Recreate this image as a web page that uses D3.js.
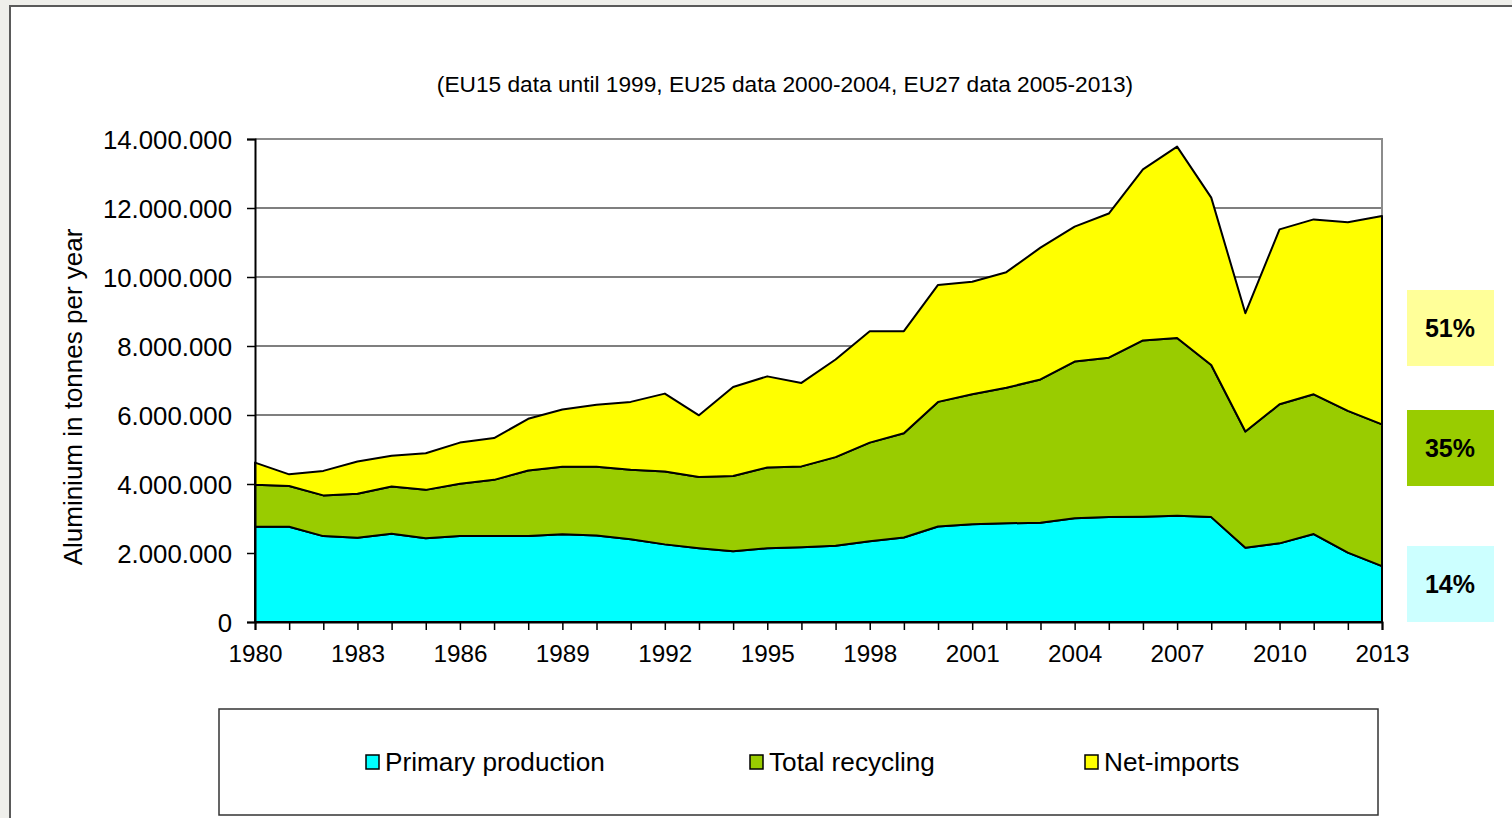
<!DOCTYPE html>
<html>
<head>
<meta charset="utf-8">
<script src="https://cdn.jsdelivr.net/npm/d3@7"></script>
<style>
  html, body { margin: 0; padding: 0; background: #efefeb; }
  svg { display: block; }
  text { font-family: "Liberation Sans", Arial, sans-serif; fill: #000; }
</style>
</head>
<body>
<svg id="chart" width="1512" height="818"></svg>
<script>
// ---- data (tonnes per year) ----
const years = [1980,1981,1982,1983,1984,1985,1986,1987,1988,1989,1990,1991,1992,1993,1994,1995,1996,1997,1998,1999,2000,2001,2002,2003,2004,2005,2006,2007,2008,2009,2010,2011,2012,2013];
const primaryProduction = [2760000,2760000,2490000,2440000,2560000,2430000,2490000,2490000,2490000,2540000,2510000,2400000,2250000,2140000,2050000,2140000,2170000,2210000,2340000,2450000,2770000,2830000,2860000,2880000,3010000,3040000,3050000,3080000,3040000,2150000,2280000,2550000,2010000,1620000];
const totalRecycling = [1220000,1180000,1180000,1280000,1370000,1400000,1520000,1630000,1900000,1960000,1990000,2010000,2110000,2060000,2180000,2340000,2340000,2570000,2860000,3020000,3610000,3770000,3930000,4150000,4540000,4620000,5110000,5150000,4410000,3370000,4030000,4050000,4110000,4110000];
const netImports = [640000,340000,710000,930000,890000,1060000,1190000,1210000,1500000,1660000,1800000,1970000,2260000,1790000,2580000,2640000,2420000,2830000,3230000,2960000,3390000,3260000,3350000,3820000,3910000,4180000,4960000,5550000,4850000,3430000,5070000,5070000,5470000,6040000];
const seriesNames = ["Primary production","Total recycling","Net-imports"];
const seriesColors = ["#00ffff","#99cc00","#ffff00"];
const yTicks = [0,2000000,4000000,6000000,8000000,10000000,12000000,14000000];
const xLabelYears = [1980,1983,1986,1989,1992,1995,1998,2001,2004,2007,2010,2013];
const shareLabels = ["51%","35%","14%"];
const shareColors = ["#ffff99","#99cc00","#ccffff"];
const subtitle = "(EU15 data until 1999, EU25 data 2000-2004, EU27 data 2005-2013)";
const yTitle = "Aluminium in tonnes per year";

// ---- layout ----
const svg = d3.select("#chart");
const plot = {left: 255, right: 1382, top: 139, bottom: 622};

// outer white panel
svg.append("rect").attr("x", 10).attr("y", 6).attr("width", 1520).attr("height", 830)
  .attr("fill", "#fff").attr("stroke", "#5a5a5a").attr("stroke-width", 2);

const x = d3.scaleLinear().domain([years[0], years[years.length-1]]).range([plot.left, plot.right]);
const y = d3.scaleLinear().domain([0, 14000000]).range([plot.bottom, plot.top]);

const locale = d3.formatLocale({decimal: ",", thousands: ".", grouping: [3], currency: ["", ""]});
const fmt = locale.format(",");

// subtitle
svg.append("text").attr("x", 785).attr("y", 92).attr("text-anchor", "middle")
  .style("font-size", "22.7px").text(subtitle);

// gridlines
svg.append("g").selectAll("line").data(yTicks.filter(d => d > 0 && d < 14000000)).join("line")
  .attr("x1", plot.left).attr("x2", plot.right)
  .attr("y1", d => y(d)).attr("y2", d => y(d))
  .attr("stroke", "#000").attr("stroke-width", 1.2);

// plot top / right frame
svg.append("path")
  .attr("d", `M${plot.left},${y(14000000)}H${plot.right}V${plot.bottom}`)
  .attr("fill", "none").attr("stroke", "#8c8c8c").attr("stroke-width", 2);

// stacked areas
const table = years.map((yr, i) => ({year: yr, p: primaryProduction[i], r: totalRecycling[i], n: netImports[i]}));
const stack = d3.stack().keys(["p","r","n"]);
const layers = stack(table);
const area = d3.area().x(d => x(d.data.year)).y0(d => y(d[0])).y1(d => y(d[1]));
svg.append("g").selectAll("path").data(layers).join("path")
  .attr("d", d => area(d) + "Z")
  .attr("fill", (d, i) => seriesColors[i])
  .attr("stroke", "#000").attr("stroke-width", 2).attr("stroke-linejoin", "round");

// axes
const yAxis = d3.axisLeft(y).tickValues(yTicks).tickFormat(fmt).tickSize(8).tickPadding(15);
const gy = svg.append("g").attr("transform", `translate(${plot.left},0)`).call(yAxis);
gy.select(".domain").attr("stroke", "#000").attr("stroke-width", 2);
gy.selectAll(".tick line").attr("stroke", "#000").attr("stroke-width", 1.5);
gy.selectAll(".tick text").style("font-size", "25.8px").style("font-family", '"Liberation Sans", Arial, sans-serif').attr("fill", "#000").attr("dy", "0.36em");

const xAxis = d3.axisBottom(x).tickValues(years).tickSize(8).tickPadding(15)
  .tickFormat(d => xLabelYears.includes(d) ? String(d) : "");
const gx = svg.append("g").attr("transform", `translate(0,${plot.bottom})`).call(xAxis);
gx.select(".domain").attr("stroke", "#000").attr("stroke-width", 2);
gx.selectAll(".tick line").attr("stroke", "#000").attr("stroke-width", 1.5);
gx.selectAll(".tick text").style("font-size", "24.3px").style("font-family", '"Liberation Sans", Arial, sans-serif').attr("fill", "#000");

// y title
svg.append("text").attr("transform", "translate(82,397) rotate(-90)").attr("text-anchor", "middle")
  .style("font-size", "26px").text(yTitle);

// share boxes
const shareY = [290, 410, 546];
const sb = svg.append("g").selectAll("g").data(shareLabels).join("g");
sb.append("rect").attr("x", 1407).attr("y", (d, i) => shareY[i]).attr("width", 87).attr("height", 76)
  .attr("fill", (d, i) => shareColors[i]);
sb.append("text").attr("x", 1450).attr("y", (d, i) => shareY[i] + 38).attr("dy", "0.36em")
  .attr("text-anchor", "middle").style("font-size", "25px").style("font-weight", "bold").text(d => d);

// legend
svg.append("rect").attr("x", 219).attr("y", 709).attr("width", 1159).attr("height", 106)
  .attr("fill", "#fff").attr("stroke", "#333").attr("stroke-width", 1.5);
const legX = [366, 750, 1085];
const lg = svg.append("g").selectAll("g").data(seriesNames).join("g")
  .attr("transform", (d, i) => `translate(${legX[i]},762)`);
lg.append("rect").attr("x", 0).attr("y", -7).attr("width", 13).attr("height", 14)
  .attr("fill", (d, i) => seriesColors[i]).attr("stroke", "#000").attr("stroke-width", 1.5);
lg.append("text").attr("x", 19).attr("dy", "0.36em").style("font-size", "26.2px").text(d => d);
</script>
</body>
</html>
